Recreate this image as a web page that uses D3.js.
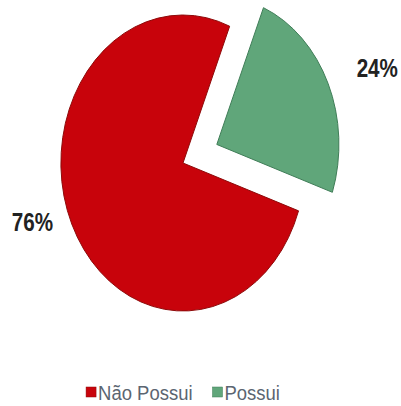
<!DOCTYPE html>
<html>
<head>
<meta charset="utf-8">
<script src="https://cdn.jsdelivr.net/npm/d3@7.9.0/dist/d3.min.js"></script>
<style>
  html, body { margin: 0; padding: 0; background: #fff; }
  svg { display: block; }
</style>
</head>
<body>
<svg id="chart" width="401" height="406"></svg>
<script>
// --- data ---
const categories = ["Não Possui", "Possui"];
const values = [76, 24];
const labels = ["76%", "24%"];
const colors = ["#c8030b", "#60a67a"];
const strokes = ["#8e0a0a", "#3f7d57"];
const explode = [0, 45];
const labelRadius = [192, 209];
const labelShift = [0.11, 0.05]; // labels sit a bit clockwise of the slice middle

const svg = d3.select("#chart");

// pie looks squeezed horizontally in the original
const cx = 183, cy = 163, R = 148, squeeze = 0.825;

const pie = d3.pie().sort(null).startAngle(1.9).endAngle(1.9 + 2 * Math.PI);
const arcs = pie(values);

const arc = d3.arc().innerRadius(0).outerRadius(R);

const g = svg.append("g").attr("transform", `translate(${cx},${cy}) scale(${squeeze},1)`);

const slice = g.selectAll("g.slice")
  .data(arcs)
  .join("g")
  .attr("class", "slice")
  .attr("transform", (d, i) => {
    const mid = (d.startAngle + d.endAngle) / 2;
    return `translate(${Math.sin(mid) * explode[i]},${-Math.cos(mid) * explode[i]})`;
  });

slice.append("path")
  .attr("d", arc)
  .attr("fill", (d, i) => colors[i])
  .attr("stroke", (d, i) => strokes[i])
  .attr("stroke-width", 1)
  .attr("vector-effect", "non-scaling-stroke");

slice.append("text")
  .attr("transform", (d, i) => {
    const a = (d.startAngle + d.endAngle) / 2 + labelShift[i];
    return `translate(${Math.sin(a) * labelRadius[i]},${-Math.cos(a) * labelRadius[i]})`;
  })
  .attr("text-anchor", "middle")
  .attr("dy", "0.36em")
  .attr("font-family", "Liberation Sans, Arial, sans-serif")
  .attr("font-weight", "bold")
  .attr("font-size", 25)
  .attr("fill", "#222")
  .text((d, i) => labels[i]);

// --- legend ---
const legFont = 21, legScale = 0.88, box = 10, gap = 2, itemGap = 20;
const legend = svg.append("g");
let x = 0;
categories.forEach((c, i) => {
  const it = legend.append("g").attr("transform", `translate(${x},0)`);
  it.append("rect")
    .attr("x", 0).attr("y", -box / 2 - 1)
    .attr("width", box).attr("height", box)
    .attr("fill", colors[i])
    .attr("stroke", strokes[i]).attr("stroke-width", 0.5);
  const t = it.append("text")
    .attr("transform", `translate(${box + gap},0) scale(${legScale},1)`)
    .attr("dy", "0.35em")
    .attr("font-family", "Liberation Sans, Arial, sans-serif")
    .attr("font-size", legFont)
    .attr("fill", "#5b6571")
    .text(c);
  x += box + gap + t.node().getComputedTextLength() * legScale + itemGap;
});
const totalW = x - itemGap;
legend.attr("transform", `translate(${cx - totalW / 2},393)`);
</script>
</body>
</html>
